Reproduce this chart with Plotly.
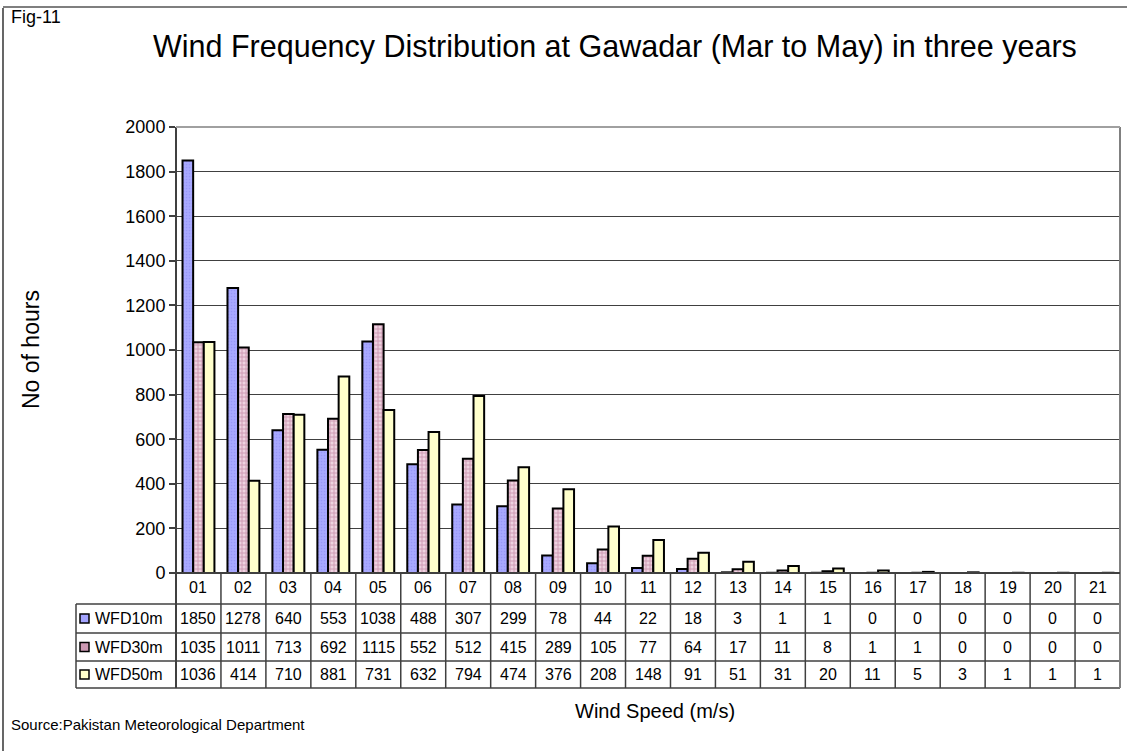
import plotly.graph_objects as go

categories = ["01", "02", "03", "04", "05", "06", "07", "08", "09", "10", "11",
              "12", "13", "14", "15", "16", "17", "18", "19", "20", "21"]
wfd10m = [1850, 1278, 640, 553, 1038, 488, 307, 299, 78, 44, 22, 18, 3, 1, 1, 0, 0, 0, 0, 0, 0]
wfd30m = [1035, 1011, 713, 692, 1115, 552, 512, 415, 289, 105, 77, 64, 17, 11, 8, 1, 1, 0, 0, 0, 0]
wfd50m = [1036, 414, 710, 881, 731, 632, 794, 474, 376, 208, 148, 91, 51, 31, 20, 11, 5, 3, 1, 1, 1]
series_names = ["WFD10m", "WFD30m", "WFD50m"]
y_ticks = [0, 200, 400, 600, 800, 1000, 1200, 1400, 1600, 1800, 2000]

FONT = "Liberation Sans, Arial, sans-serif"
W, H = 1127, 751
ML, MR, MT, MB = 176, 7, 127, 178
PW, PH = W - ML - MR, H - MT - MB


def px_x(p):
    return (p - ML) / PW


def px_y(p):
    return (H - MB - p) / PH


styles = [
    dict(color="#A4A4FF", pattern=dict(shape=".", fgcolor="#8888F0", bgcolor="#A8A8FF", size=3, solidity=0.25)),
    dict(color="#D8A8C0", pattern=dict(shape="+", fgcolor="#A85A80", bgcolor="#EED2E0", size=4, solidity=0.4)),
    dict(color="#FFFFCC", pattern=dict(shape="")),
]
key_fill = ["#A4A4FF", "#CC99B3", "#FFFFCC"]

fig = go.Figure()
for name, vals, st in zip(series_names, [wfd10m, wfd30m, wfd50m], styles):
    fig.add_trace(go.Bar(
        x=categories, y=vals, name=name,
        marker=dict(color=st["color"], pattern=st["pattern"], line=dict(color="#000000", width=2)),
        showlegend=False,
    ))

shapes = []
annotations = []
line_col = "#404040"

header_top, header_bot = 573, 604
row_edges = [604, 633, 661, 688]
table_left = 76

for yy in [header_bot] + row_edges[1:]:
    shapes.append(dict(type="line", xref="paper", yref="paper", x0=px_x(table_left), x1=1,
                       y0=px_y(yy), y1=px_y(yy), line=dict(color=line_col, width=1.5)))
shapes.append(dict(type="line", xref="paper", yref="paper", x0=px_x(table_left), x1=px_x(table_left),
                   y0=px_y(header_bot), y1=px_y(row_edges[-1]), line=dict(color=line_col, width=1.5)))
for i in range(1, len(categories)):
    shapes.append(dict(type="line", xref="x", yref="paper", x0=i - 0.5, x1=i - 0.5,
                       y0=0, y1=px_y(row_edges[-1]), line=dict(color=line_col, width=1.5)))
shapes.append(dict(type="line", xref="paper", yref="paper", x0=0, x1=0, y0=1, y1=px_y(row_edges[-1]),
                   line=dict(color=line_col, width=2)))
shapes.append(dict(type="line", xref="paper", yref="paper", x0=1, x1=1, y0=1, y1=px_y(row_edges[-1]),
                   line=dict(color="#808080", width=2)))
shapes.append(dict(type="line", xref="paper", yref="paper", x0=0, x1=1, y0=1, y1=1,
                   line=dict(color="#A0A0A0", width=2)))
shapes.append(dict(type="line", xref="paper", yref="paper", x0=0, x1=1, y0=0, y1=0,
                   line=dict(color=line_col, width=2)))
shapes.append(dict(type="line", xref="paper", yref="paper", x0=px_x(3), x1=px_x(3), y0=px_y(8), y1=px_y(H + 5),
                   line=dict(color="#000000", width=1.2)))
shapes.append(dict(type="line", xref="paper", yref="paper", x0=px_x(3), x1=px_x(W + 5), y0=px_y(7), y1=px_y(7),
                   line=dict(color="#000000", width=1.2)))

TFONT = dict(family=FONT, size=16, color="#000")
for i, c in enumerate(categories):
    annotations.append(dict(x=i, y=px_y((header_top + header_bot) / 2 - 1), xref="x", yref="paper",
                            text=c, showarrow=False, font=TFONT, xanchor="center", yanchor="middle"))
for r, (name, vals) in enumerate(zip(series_names, [wfd10m, wfd30m, wfd50m])):
    yc = (row_edges[r] + row_edges[r + 1]) / 2
    for i, v in enumerate(vals):
        annotations.append(dict(x=i, y=px_y(yc), xref="x", yref="paper", text=str(v), showarrow=False,
                                font=TFONT, xanchor="center", yanchor="middle"))
    annotations.append(dict(x=px_x(93), y=px_y(yc), xref="paper", yref="paper", text=name, showarrow=False,
                            font=TFONT, xanchor="left", yanchor="middle"))
    shapes.append(dict(type="rect", xref="paper", yref="paper", x0=px_x(80), x1=px_x(89),
                       y0=px_y(yc - 4.5), y1=px_y(yc + 4.5), fillcolor=key_fill[r],
                       line=dict(color="#000000", width=1.5)))

annotations += [
    dict(x=px_x(9), y=px_y(17), xref="paper", yref="paper", text="Fig-11", showarrow=False,
         font=dict(family=FONT, size=18, color="#000"), xanchor="left", yanchor="middle"),
    dict(x=px_x(615), y=px_y(46), xref="paper", yref="paper",
         text="Wind Frequency Distribution at Gawadar (Mar to May) in three years", showarrow=False,
         font=dict(family=FONT, size=30.5, color="#000"), xanchor="center", yanchor="middle"),
    dict(x=px_x(31), y=px_y(350), xref="paper", yref="paper", text="No of hours", showarrow=False,
         textangle=-90, font=dict(family=FONT, size=23, color="#000"), xanchor="center", yanchor="middle"),
    dict(x=px_x(655), y=px_y(711), xref="paper", yref="paper", text="Wind Speed (m/s)", showarrow=False,
         font=dict(family=FONT, size=20, color="#000"), xanchor="center", yanchor="middle"),
    dict(x=px_x(9), y=px_y(724), xref="paper", yref="paper", text="Source:Pakistan Meteorological Department",
         showarrow=False, font=dict(family=FONT, size=15, color="#000"), xanchor="left", yanchor="middle"),
]

fig.update_layout(
    width=W, height=H,
    margin=dict(l=ML, r=MR, t=MT, b=MB, pad=0),
    paper_bgcolor="#FFFFFF", plot_bgcolor="#FFFFFF",
    barmode="group", bargap=0.29, bargroupgap=0,
    font=dict(family=FONT, color="#000"),
    shapes=shapes, annotations=annotations,
    xaxis=dict(type="category", showticklabels=False, ticks="", showgrid=False, showline=False,
               zeroline=False, range=[-0.5, len(categories) - 0.5]),
    yaxis=dict(range=[0, 2000], tickvals=y_ticks, ticks="outside", ticklen=6, tickcolor=line_col,
               tickwidth=1.5, showgrid=True, gridcolor="#404040", gridwidth=1.3, showline=False,
               zeroline=False, tickfont=dict(family=FONT, size=18, color="#000")),
)

fig.write_html("out.html", config={"displayModeBar": False},
               post_script="document.body.style.margin='0';document.body.style.overflow='hidden';")
